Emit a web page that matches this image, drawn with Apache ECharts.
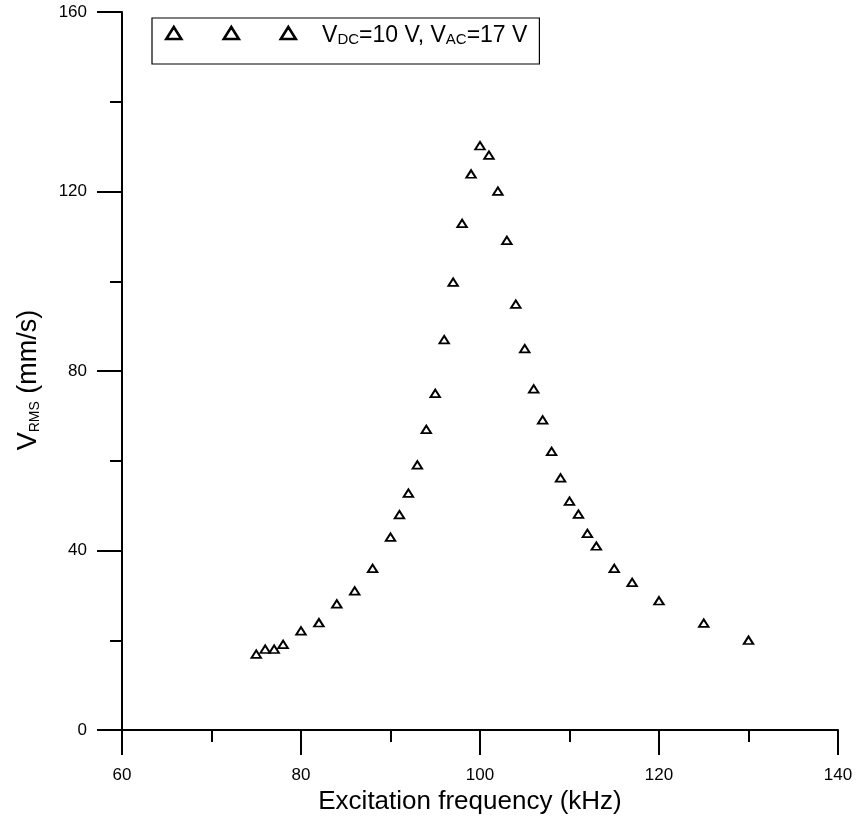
<!DOCTYPE html>
<html>
<head>
<meta charset="utf-8">
<script src="https://cdn.jsdelivr.net/npm/echarts@6/dist/echarts.min.js"></script>
<style>html,body{margin:0;padding:0;background:#fff}#c{width:857px;height:818px}</style>
</head>
<body>
<div id="c"></div>
<script>
const freq = [75, 76, 77, 78, 80, 82, 84, 86, 88, 90, 91, 92, 93, 94, 95, 96, 97, 98, 99, 100, 101, 102, 103, 104, 105, 106, 107, 108, 109, 110, 111, 112, 113, 115, 117, 120, 125, 130];
const vrms = [16.9, 18.0, 18.0, 19.1, 22.1, 23.9, 28.1, 31.0, 36.0, 43.0, 48.0, 52.8, 59.1, 67.0, 75.0, 87.0, 99.8, 112.9, 123.9, 130.2, 128.1, 120.1, 109.1, 94.9, 85.0, 76.0, 69.1, 62.1, 56.2, 51.0, 48.1, 43.8, 41.0, 36.0, 32.9, 28.8, 23.8, 20.0];
const seriesName = 'VDC10VAC17';
const xTitle = 'Excitation frequency (kHz)';

const font = 'Liberation Sans, Arial, sans-serif';
const points = freq.map((f, i) => [f, vrms[i]]);

const chart = echarts.init(document.getElementById('c'), null, {renderer: 'canvas'});
chart.setOption({
  animation: false,
  backgroundColor: '#fff',
  grid: {left: 122, right: 19, top: 12, bottom: 88, containLabel: false, outerBoundsMode: 'none'},
  legend: {
    left: 152, top: 18,
    padding: [6, 12, 17, 13],
    borderColor: '#000', borderWidth: 1.2,
    itemWidth: 130, itemHeight: 12,
    icon: 'path://M0 12 L7.5 0 L15 12 Z M57.5 12 L65 0 L72.5 12 Z M114.5 12 L122 0 L129.5 12 Z',
    itemStyle: {color: '#fff', borderColor: '#000', borderWidth: 2.6},
    data: [seriesName],
    formatter: function () {
      return '{n|V}{s|DC}{n|=10 V, V}{s|AC}{n|=17 V}';
    },
    textStyle: {
      padding: [0, 0, 0, 21],
      rich: {
        n: {fontSize: 23, fontFamily: font, color: '#000', lineHeight: 28, verticalAlign: 'bottom'},
        s: {fontSize: 15, fontFamily: font, color: '#000', lineHeight: 10, verticalAlign: 'bottom'}
      }
    }
  },
  xAxis: {
    type: 'value', min: 60, max: 140, interval: 20,
    name: xTitle, nameLocation: 'middle', nameGap: 58,
    nameTextStyle: {fontSize: 26, fontFamily: font, color: '#000', padding: [0, 20, 0, 0]},
    axisLine: {show: true, onZero: false, lineStyle: {color: '#000', width: 2}},
    axisTick: {show: true, inside: false, length: 25, lineStyle: {color: '#000', width: 2}},
    minorTick: {show: true, splitNumber: 2, length: 12, lineStyle: {color: '#000', width: 2}},
    axisLabel: {margin: 37, fontSize: 17, fontFamily: font, color: '#000'},
    splitLine: {show: false}
  },
  yAxis: {
    type: 'value', min: 0, max: 160, interval: 40,
    name: '{n|V}{s|RMS}{n| (mm/s)}', nameLocation: 'middle', nameGap: 80, nameRotate: 90,
    nameTextStyle: {
      fontFamily: font, color: '#000', padding: [0, 18, 0, 0],
      rich: {
        n: {fontSize: 27, fontFamily: font, color: '#000', lineHeight: 32, verticalAlign: 'bottom'},
        s: {fontSize: 14, fontFamily: font, color: '#000', lineHeight: 19, verticalAlign: 'bottom'}
      }
    },
    axisLine: {show: true, onZero: false, lineStyle: {color: '#000', width: 2}},
    axisTick: {show: true, inside: false, length: 25, lineStyle: {color: '#000', width: 2}},
    minorTick: {show: true, splitNumber: 2, length: 12, lineStyle: {color: '#000', width: 2}},
    axisLabel: {margin: 35, fontSize: 17, fontFamily: font, color: '#000'},
    splitLine: {show: false}
  },
  series: [{
    name: seriesName,
    type: 'scatter',
    symbol: 'triangle',
    symbolSize: [9.5, 7.5],
    itemStyle: {color: '#fff', borderColor: '#000', borderWidth: 1.9, opacity: 1},
    data: points
  }]
});
</script>
</body>
</html>
